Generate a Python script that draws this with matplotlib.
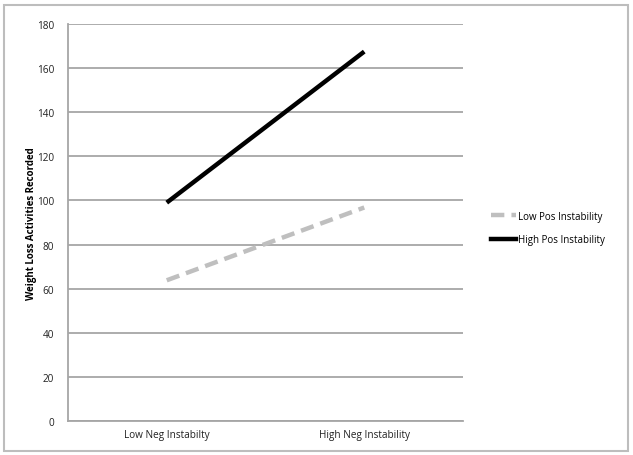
import matplotlib
matplotlib.use("Agg")
import matplotlib.pyplot as plt
from matplotlib.patches import Rectangle
from matplotlib.lines import Line2D

categories = ["Low Neg Instabilty", "High Neg Instability"]
series_names = ["Low Pos Instability", "High Pos Instability"]
low_pos = [63.8, 96.8]
high_pos = [99.0, 167.5]
yticks = [0, 20, 40, 60, 80, 100, 120, 140, 160, 180]

plt.rcParams['font.family'] = ['Open Sans', 'DejaVu Sans']

fig = plt.figure(figsize=(6.33, 4.56), dpi=100)
ax = fig.add_axes([68/633, 34/456, 395/633, 397/456])

x = list(range(len(categories)))
ax.plot(x, low_pos, color="#bfbfbf", lw=3.2, ls=(0, (3, 1.6)), solid_capstyle='butt', dash_capstyle='butt', label=series_names[0], zorder=3)
ax.plot(x, high_pos, color="black", lw=3.2, solid_capstyle='butt', label=series_names[1], zorder=3)

ax.set_xlim(-0.5, 1.5)
ax.set_ylim(0, 180)
ax.set_yticks(yticks)
ax.set_xticks(x)
ax.set_xticklabels(categories)
ax.tick_params(axis='both', length=0, labelsize=7.2, colors="#222222", pad=6)
ax.tick_params(axis='y', pad=10)
ax.yaxis.grid(True, color="#a6a6a6", lw=1.3)
ax.set_axisbelow(True)
for s in ["top", "right"]:
    ax.spines[s].set_visible(False)
ax.spines["left"].set_color("#a6a6a6")
ax.spines["bottom"].set_color("#a6a6a6")
ax.spines["left"].set_linewidth(1.3)
ax.spines["bottom"].set_linewidth(1.3)
ax.set_ylabel("Weight Loss Activities Recorded", fontsize=7, fontweight="bold", labelpad=0)

handles = [Line2D([], [], color="#bfbfbf", lw=3.2, ls=(0, (3, 1.6))),
           Line2D([], [], color="black", lw=3.2)]
fig.legend(handles, series_names, loc="center left", bbox_to_anchor=(482/633, 1 - 229/456),
           frameon=False, fontsize=7, handlelength=2.6, handletextpad=0.2, labelspacing=1.3)

fig.patches.append(Rectangle((4/633, 4/456), 624/633, 446/456, transform=fig.transFigure,
                             fill=False, edgecolor="#bdbdbd", lw=1.5))

fig.savefig("out.png", dpi=100)
